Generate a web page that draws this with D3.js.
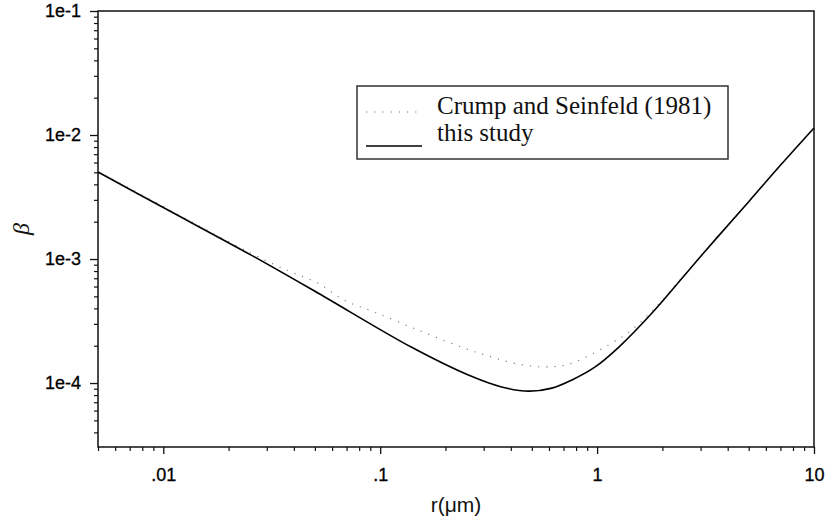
<!DOCTYPE html>
<html>
<head>
<meta charset="utf-8">
<script src="https://cdn.jsdelivr.net/npm/d3@7"></script>
<style>
  html, body { margin: 0; padding: 0; background: #fff; }
  svg { display: block; }
</style>
</head>
<body>
<svg id="chart" width="826" height="520"></svg>
<script>
// x: particle radius (µm), y: beta
const rStudy = [0.005, 0.01, 0.0253, 0.0516, 0.139, 0.255, 0.363, 0.484, 0.619, 0.766, 0.98, 1.26, 1.8, 3, 5, 7, 10];
const betaStudy = [5.03e-3, 2.6e-3, 1.08e-3, 5.32e-4, 1.95e-4, 1.16e-4, 9.3e-5, 8.6e-5, 9.1e-5, 1.06e-4, 1.35e-4, 1.95e-4, 3.7e-4, 1.05e-3, 2.9e-3, 5.7e-3, 1.14e-2];

const rCrump = [0.005, 0.01, 0.02, 0.0313, 0.040, 0.0516, 0.068, 0.0938, 0.150, 0.245, 0.327, 0.435, 0.574, 0.741, 1.14, 1.41, 1.8, 3, 5, 7, 10];
const betaCrump = [5.1e-3, 2.65e-3, 1.38e-3, 9.3e-4, 7.7e-4, 6.4e-4, 4.67e-4, 3.74e-4, 2.67e-4, 1.91e-4, 1.62e-4, 1.42e-4, 1.35e-4, 1.42e-4, 2.05e-4, 2.6e-4, 3.85e-4, 1.05e-3, 2.9e-3, 5.7e-3, 1.14e-2];

const xMajor = [0.01, 0.1, 1, 10];
const xLabels = ['.01', '.1', '1', '10'];
const yMajor = [1e-4, 1e-3, 1e-2, 1e-1];
const yLabels = ['1e-4', '1e-3', '1e-2', '1e-1'];
const seriesNames = ['Crump and Seinfeld (1981)', 'this study'];

const svg = d3.select('#chart');
const L = 98, R = 814, T = 11, B = 447;
const sans = '"Liberation Sans", Arial, sans-serif';
const serif = '"Liberation Serif", "Times New Roman", serif';

const x = d3.scaleLog().domain([0.005, 10]).range([L, R]);
const y = d3.scaleLog().domain([3.05e-5, 1e-1]).range([B, T]);

// minor tick values 2..9 per decade
const minors = (lo, hi) => {
  const out = [];
  for (let e = Math.floor(Math.log10(lo)); e <= Math.ceil(Math.log10(hi)); e++)
    for (let m = 2; m <= 9; m++) {
      const v = m * Math.pow(10, e);
      if (v >= lo * 0.999 && v <= hi * 1.001) out.push(v);
    }
  return out;
};

const styleAxis = (g, w) => {
  g.select('.domain').remove();
  g.selectAll('line').attr('stroke', '#111').attr('stroke-width', w);
  g.attr('font-family', sans).attr('font-size', 18);
  g.selectAll('text').attr('fill', '#000').attr('stroke', '#000').attr('stroke-width', 0.3);
};

// x axis
svg.append('g').attr('transform', `translate(0,${B})`)
  .call(d3.axisBottom(x).tickValues(minors(0.005, 10)).tickSize(4).tickFormat(''))
  .call(g => styleAxis(g, 1.2));
svg.append('g').attr('transform', `translate(0,${B})`)
  .call(d3.axisBottom(x).tickValues(xMajor).tickSize(7).tickPadding(14)
    .tickFormat((d, i) => xLabels[i]))
  .call(g => styleAxis(g, 1.3));

// y axis
svg.append('g').attr('transform', `translate(${L},0)`)
  .call(d3.axisLeft(y).tickValues(minors(3.05e-5, 1e-1)).tickSize(4).tickFormat(''))
  .call(g => styleAxis(g, 1.2));
svg.append('g').attr('transform', `translate(${L},0)`)
  .call(d3.axisLeft(y).tickValues(yMajor).tickSize(8).tickPadding(9)
    .tickFormat((d, i) => yLabels[i]))
  .call(g => styleAxis(g, 1.3));

// frame
svg.append('rect')
  .attr('x', L).attr('y', T).attr('width', R - L).attr('height', B - T)
  .attr('fill', 'none').attr('stroke', '#111').attr('stroke-width', 1.5);

const line = d3.line().x(d => x(d[0])).y(d => y(d[1])).curve(d3.curveCatmullRom.alpha(0.5));

svg.append('path')
  .datum(d3.zip(rCrump, betaCrump))
  .attr('d', line)
  .attr('fill', 'none')
  .attr('stroke', '#777')
  .attr('stroke-width', 1.1)
  .attr('stroke-dasharray', '1.2 7');

svg.append('path')
  .datum(d3.zip(rStudy, betaStudy))
  .attr('d', line)
  .attr('fill', 'none')
  .attr('stroke', '#000')
  .attr('stroke-width', 1.6);

// legend
const lg = svg.append('g');
lg.append('rect').attr('x', 357).attr('y', 86).attr('width', 371).attr('height', 73)
  .attr('fill', '#fff').attr('stroke', '#333').attr('stroke-width', 1.5);
lg.append('line').attr('x1', 366).attr('x2', 422).attr('y1', 112).attr('y2', 112)
  .attr('stroke', '#777').attr('stroke-width', 1.1).attr('stroke-dasharray', '1.2 7');
lg.append('line').attr('x1', 366).attr('x2', 422).attr('y1', 146).attr('y2', 146)
  .attr('stroke', '#000').attr('stroke-width', 1.6);
lg.selectAll('text.lab').data(seriesNames).join('text')
  .attr('class', 'lab')
  .attr('x', 437)
  .attr('y', (d, i) => i === 0 ? 114 : 141)
  .attr('font-family', serif)
  .attr('font-size', 25)
  .attr('fill', '#111')
  .text(d => d);

// axis titles
svg.append('text')
  .attr('x', (L + R) / 2).attr('y', 512)
  .attr('text-anchor', 'middle')
  .attr('font-family', sans)
  .attr('font-size', 21)
  .attr('fill', '#111')
  .text('r(μm)');

svg.append('text')
  .attr('transform', `translate(29,${(T + B) / 2}) rotate(-90)`)
  .attr('text-anchor', 'middle')
  .attr('font-family', serif)
  .attr('font-style', 'italic')
  .attr('font-size', 24)
  .attr('fill', '#111')
  .text('β');
</script>
</body>
</html>
